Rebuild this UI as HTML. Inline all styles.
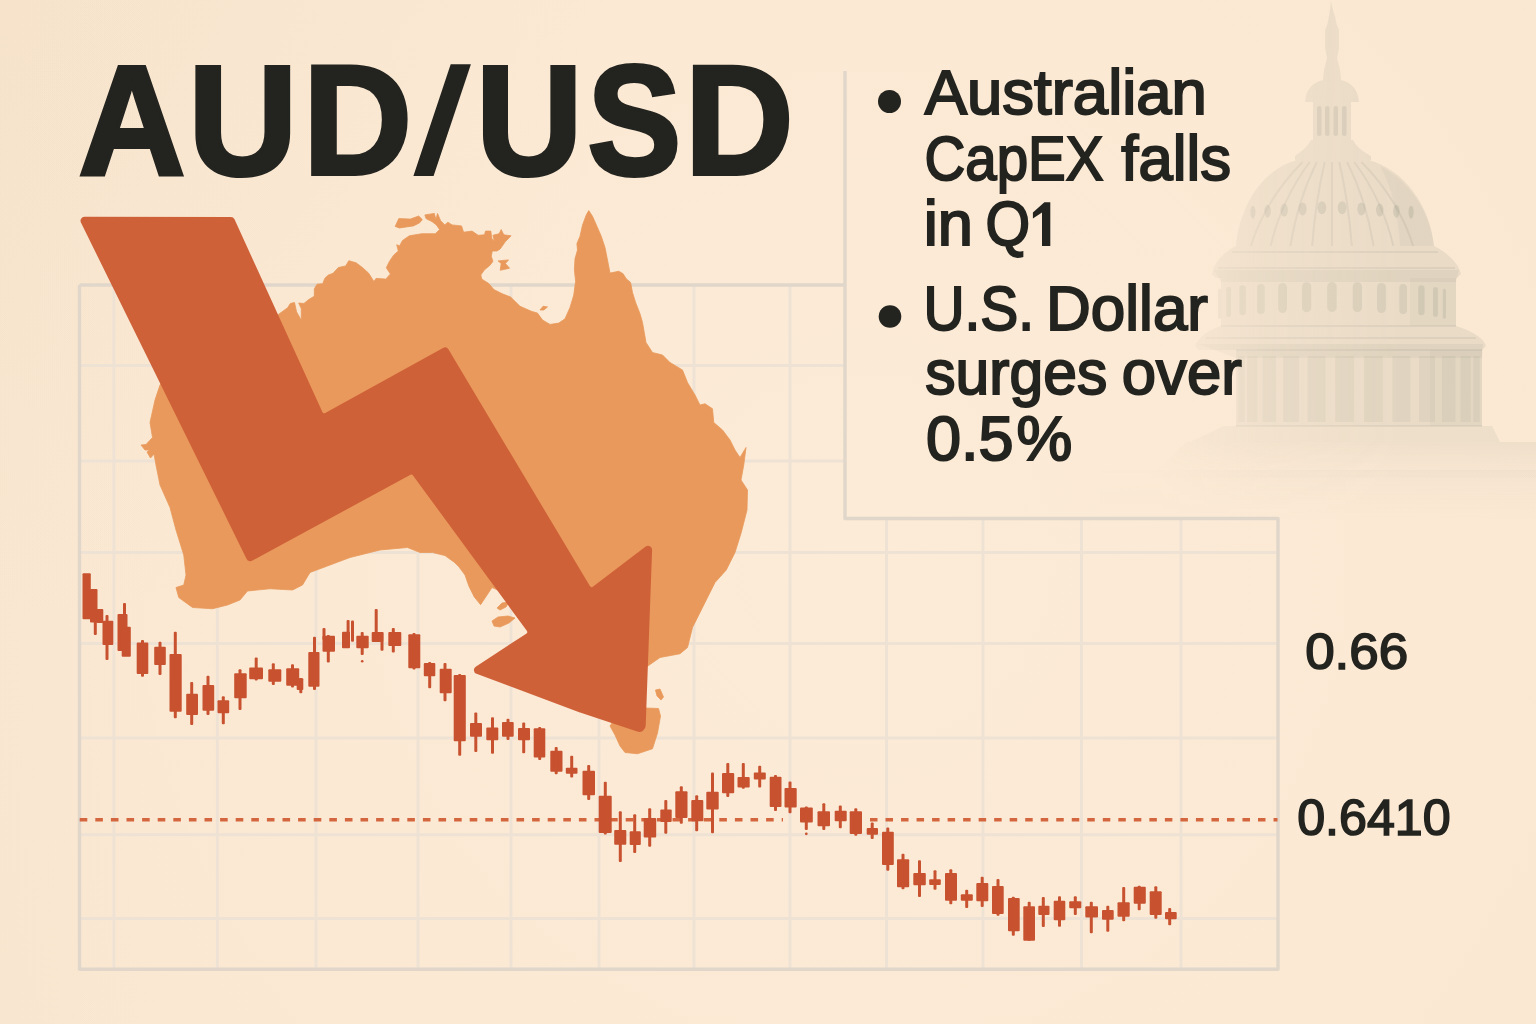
<!DOCTYPE html>
<html><head><meta charset="utf-8"><title>AUD/USD</title>
<style>
html,body{margin:0;padding:0;background:#fbe9d4;}
body{width:1536px;height:1024px;overflow:hidden;font-family:"Liberation Sans",sans-serif;}
svg{display:block;}
text{font-family:"Liberation Sans",sans-serif;}
</style></head><body>
<svg width="1536" height="1024" viewBox="0 0 1536 1024" role="img" aria-label="AUD/USD: Australian CapEX falls in Q1; U.S. Dollar surges over 0.5%">
<defs>
<radialGradient id="bg" gradientUnits="userSpaceOnUse" cx="860" cy="560" r="1000">
<stop offset="0" stop-color="#fcebd7"/><stop offset="0.6" stop-color="#fbe9d4"/><stop offset="1" stop-color="#f9e7d1"/>
</radialGradient>
<radialGradient id="bgtl" gradientUnits="userSpaceOnUse" cx="0" cy="0" r="620">
<stop offset="0" stop-color="#e9cfae" stop-opacity="0.13"/><stop offset="1" stop-color="#e9cfae" stop-opacity="0"/>
</radialGradient>
<linearGradient id="bgl" gradientUnits="userSpaceOnUse" x1="0" y1="0" x2="150" y2="0">
<stop offset="0" stop-color="#e9cfae" stop-opacity="0.05"/><stop offset="1" stop-color="#e9cfae" stop-opacity="0"/>
</linearGradient>
</defs>
<rect width="1536" height="1024" fill="url(#bg)"/><rect width="1536" height="1024" fill="url(#bgtl)"/><rect width="150" height="1024" fill="url(#bgl)"/>
<g stroke="#eee2d5" stroke-width="2.9" fill="none"><line x1="113.9" y1="285" x2="113.9" y2="969.3"/><line x1="217.3" y1="285" x2="217.3" y2="969.3"/><line x1="316" y1="285" x2="316" y2="969.3"/><line x1="418" y1="285" x2="418" y2="969.3"/><line x1="511" y1="285" x2="511" y2="969.3"/><line x1="599" y1="285" x2="599" y2="969.3"/><line x1="694" y1="285" x2="694" y2="969.3"/><line x1="790" y1="285" x2="790" y2="969.3"/><line x1="886.5" y1="518.5" x2="886.5" y2="969.3"/><line x1="983" y1="518.5" x2="983" y2="969.3"/><line x1="1081.5" y1="518.5" x2="1081.5" y2="969.3"/><line x1="1181" y1="518.5" x2="1181" y2="969.3"/><line x1="79" y1="365.5" x2="845" y2="365.5"/><line x1="79" y1="461" x2="845" y2="461"/><line x1="79" y1="552.5" x2="1278" y2="552.5"/><line x1="79" y1="643.5" x2="1278" y2="643.5"/><line x1="79" y1="738" x2="1278" y2="738"/><line x1="79" y1="834.8" x2="1278" y2="834.8"/><line x1="79" y1="918.5" x2="1278" y2="918.5"/></g>
<path d="M79.5,285 H845 M845,71 V518.5 H1278 V969.3 H79.5 V285" fill="none" stroke="#e0d6ca" stroke-width="3.4" stroke-linejoin="round"/>
<path d="M270,320 L278.3,314.5 L287.7,307.7 L290.3,303.5 L294.5,302.5 L296.6,311.9 L301.3,320.2 L301.3,308.7 L298.7,303 L303.9,303.5 L309.1,299.3 L314.3,296.2 L314.3,288.9 L317,284.2 L322.7,283.7 L324.8,278.4 L327.9,275.3 L333.1,273.2 L338.4,267.5 L345.7,265.9 L348.8,260.7 L356.1,262.8 L362.4,267.5 L368.7,273.2 L372.3,279 L373.9,281.6 L376,278.4 L385.4,279 L385.2,279.7 L390.4,274 L386.3,267.7 L389.4,261.4 L393.6,255.2 L398.3,251 L396.7,244.7 L399.5,246 L402.5,240.5 L409.3,235.8 L421.8,233.7 L435.4,233.7 L439.6,229.6 L436.4,224.9 L432.2,221.7 L426,218.6 L424.9,214.9 L434.3,213.4 L435.9,219.6 L437.5,213.4 L440.6,220.7 L444.8,224.9 L447.9,222.2 L452.1,224.9 L461.5,225.9 L463.6,232.2 L472,231.1 L478.2,235.3 L484.5,234.8 L485.5,231.1 L490.8,231.1 L491.8,238.4 L494.4,241 L492.9,235.3 L499.1,233.7 L501.2,229.6 L503.8,234.8 L511.1,235.8 L505.4,241.6 L500.2,248.9 L497,251 L492.3,251 L491.3,256.2 L492.9,261.4 L489.7,265.6 L484.5,269.8 L480.8,275 L481.9,279.2 L488.7,283.4 L493.9,289.6 L502.3,293.8 L510.6,297 L520,306.25 L531.25,311.25 L537.5,313.1 L542.5,320 L550,324.4 L558.75,323.1 L565,318.75 L570,307.5 L573.75,295 L575.6,281.25 L574.4,270 L575,258.75 L577.5,250 L576.9,243.75 L580,236.25 L582.5,225 L586.25,215 L588.75,210.6 L592.5,216.25 L596.9,226.25 L601.25,236.25 L605,247.5 L607.5,260 L610,273.1 L618.75,271.25 L623.1,273.75 L626.25,278.75 L630.6,282.5 L632.5,292.5 L635.6,302.5 L640,313.75 L642.5,322.5 L646,342.5 L652.5,352.5 L662.5,355 L670,362.5 L682.5,370 L687.5,382.5 L695,395 L700,405 L705,403.75 L712.5,408.75 L713.75,422.5 L722.5,430 L730,440 L735,450 L740,457.5 L746,447.5 L743.75,465 L741,480 L747.5,490 L747,510 L741.25,532.5 L735,552.5 L726.25,570 L715,582.5 L707.5,597.5 L700,612.5 L692.5,627.5 L687.5,647.5 L680,653.75 L660,657.5 L647.5,666.25 L630,660 L560,615 L500,591 L492,587.5 L480.6,604.7 L474.3,597 L469,586.4 L465,575 L458.7,566.6 L454.5,562.4 L445,555.6 L432.5,552.5 L420,552.5 L407.5,547.5 L380,550 L350,557.5 L330,565 L310,572.5 L302.5,585 L292.5,590 L270,588.75 L247.5,591 L240,600 L227.5,605 L212.5,608.75 L192.5,607.5 L178.75,597.5 L176,587.5 L183.75,585 L186,575 L183.75,555 L176,530 L170,507.5 L160,485 L156,465 L154,454 L150.5,458 L147,452 L149.5,450 L145,450 L141,445 L146,444.5 L152.5,437.5 L150,422.5 L155,400 L160,385 L166,377Z M395.2,226.4 L398.8,218.6 L410.3,219.1 L418.7,216 L422.3,219.6 L419.7,222.8 L413.4,225.9 L399.3,228Z M498.1,260.9 L508.5,259.9 L505.4,263.5 L509.6,268.2 L500.2,270.3 L501.2,263.5Z M540,310 L543.1,306.25 L547.5,306.9 L543.75,310Z M612,723 L610,726 L615,735 L620,746 L625,752.5 L637.5,753.75 L652.5,748.75 L657.5,733 L660.5,716 L658.5,708.5 L646,708 L640,718 L625,716Z M655.5,690 L660,689 L663.5,697 L661,700 L657,696Z M492,621 L498,617 L508,616 L515,618 L509,623 L500,627 L494,626Z M497,608 L502,603 L509,602 L506,607 L500,610Z" fill="#e9995b" stroke="#e9995b" stroke-width="0.8" stroke-linejoin="round"/>

<path d="M80.9,222.5 A4.0,4.0 0 0 1 84.4,216.8 L230.8,217.0 A4.0,4.0 0 0 1 234.5,219.3 L322.4,412.0 A2.0,2.0 0 0 0 325.2,413.0 L443.0,347.9 A4.0,4.0 0 0 1 448.4,349.3 L589.9,586.1 A2.0,2.0 0 0 0 592.8,586.7 L645.7,546.6 A4.0,4.0 0 0 1 652.1,550.0 L645.7,725.6 A6.5,6.5 0 0 1 637.2,731.6 L580.1,712.6 A4.0,4.0 0 0 1 579.9,712.6 L476.5,673.8 A4.0,4.0 0 0 1 475.7,666.7 L526.2,633.7 A2.0,2.0 0 0 0 526.8,630.8 L413.0,475.4 A2.0,2.0 0 0 0 410.5,474.8 L252.1,560.7 A4.0,4.0 0 0 1 246.6,558.9 Z" fill="#cf6139"/>

<g stroke="#d4663f" stroke-width="3.5"><line x1="79.7" y1="819.7" x2="783" y2="819.7" stroke-dasharray="7.6 8"/><line x1="870" y1="819.7" x2="1277.5" y2="819.7" stroke-dasharray="7.5 8.02"/></g>
<g fill="#c8522f"><rect x="82.5" y="573.3" width="8.3" height="45.9" rx="1"/><rect x="90" y="589" width="7.5" height="33.5" rx="1"/><rect x="93.8" y="589" width="3" height="46.0" rx="1"/><rect x="96.7" y="609" width="6.6" height="14.0" rx="1"/><rect x="102.5" y="620.8" width="10.8" height="24.2" rx="1"/><rect x="105.5" y="615" width="3" height="45.0" rx="1"/><rect x="117.5" y="614" width="10.0" height="37.0" rx="1"/><rect x="123" y="603" width="3" height="48.0" rx="1"/><rect x="121.7" y="626.7" width="9.1" height="30.0" rx="1"/><rect x="136.7" y="642.5" width="11.6" height="31.5" rx="1"/><rect x="141" y="640" width="3" height="36.7" rx="1"/><rect x="154.2" y="646.7" width="11.6" height="18.3" rx="1"/><rect x="158.5" y="641.7" width="3" height="33.3" rx="1"/><rect x="169.5" y="654" width="12.2" height="57.7" rx="1"/><rect x="173.8" y="631.7" width="3" height="86.6" rx="1"/><rect x="186.2" y="693.8" width="11.8" height="21.2" rx="1"/><rect x="190.2" y="682" width="3" height="43.0" rx="1"/><rect x="202.5" y="685" width="11.7" height="25.8" rx="1"/><rect x="206.5" y="675.8" width="3" height="39.2" rx="1"/><rect x="217.5" y="700.3" width="11.7" height="13.0" rx="1"/><rect x="221.8" y="696.3" width="3" height="27.9" rx="1"/><rect x="234.2" y="673.3" width="12.5" height="25.0" rx="1"/><rect x="238.5" y="669.2" width="3" height="40.8" rx="1"/><rect x="249.2" y="667.5" width="13.8" height="11.7" rx="1"/><rect x="254.7" y="657.5" width="3" height="23.0" rx="1"/><rect x="268.3" y="669.2" width="13.0" height="12.5" rx="1"/><rect x="271.8" y="663.3" width="3" height="21.7" rx="1"/><rect x="286.2" y="668.3" width="13.0" height="17.5" rx="1"/><rect x="291" y="664.2" width="3" height="23.3" rx="1"/><rect x="296.7" y="678.3" width="6.6" height="11.7" rx="1"/><rect x="299.3" y="678" width="3" height="15.3" rx="1"/><rect x="308.3" y="652" width="11.2" height="34.7" rx="1"/><rect x="313" y="636.7" width="3" height="53.3" rx="1"/><rect x="322.5" y="635.8" width="12.5" height="15.9" rx="1"/><rect x="326.8" y="635" width="3" height="27.5" rx="1"/><rect x="322.5" y="628" width="3.0" height="12.0" rx="1"/><rect x="342" y="631.7" width="8.0" height="16.6" rx="1"/><rect x="346.6" y="620" width="3.0" height="21.7" rx="1"/><rect x="351" y="620.5" width="3.0" height="21.2" rx="1"/><rect x="356.3" y="635.8" width="12.4" height="12.5" rx="1"/><rect x="360.7" y="632" width="3" height="23.0" rx="1"/><rect x="371.7" y="632" width="11.6" height="10.0" rx="1"/><rect x="374.7" y="609" width="3" height="33.0" rx="1"/><rect x="380.5" y="632" width="3.0" height="18.8" rx="1"/><rect x="388.3" y="632" width="13.0" height="14.0" rx="1"/><rect x="391.8" y="628" width="3" height="24.5" rx="1"/><rect x="408.3" y="634.2" width="12.0" height="34.1" rx="1"/><rect x="412.5" y="633" width="3" height="36.5" rx="1"/><rect x="423.8" y="663" width="11.5" height="13.3" rx="1"/><rect x="428.2" y="662" width="3" height="26.3" rx="1"/><rect x="439.7" y="668.7" width="12.0" height="24.6" rx="1"/><rect x="443.5" y="663" width="3" height="38.3" rx="1"/><rect x="453.7" y="675" width="12.1" height="66.3" rx="1"/><rect x="458.2" y="674" width="3" height="81.8" rx="1"/><rect x="470" y="723" width="12.0" height="13.7" rx="1"/><rect x="474.3" y="712.5" width="3" height="39.5" rx="1"/><rect x="486.3" y="727.5" width="12.0" height="12.8" rx="1"/><rect x="491" y="717.2" width="3" height="36.5" rx="1"/><rect x="502" y="722" width="11.7" height="14.7" rx="1"/><rect x="506.5" y="718.7" width="3" height="21.3" rx="1"/><rect x="518" y="728" width="12.0" height="12.3" rx="1"/><rect x="522.2" y="722.5" width="3" height="30.8" rx="1"/><rect x="533.7" y="728.3" width="11.6" height="29.2" rx="1"/><rect x="538.2" y="727" width="3" height="33.0" rx="1"/><rect x="550.3" y="750.8" width="12.2" height="20.9" rx="1"/><rect x="554.7" y="747" width="3" height="27.2" rx="1"/><rect x="565.8" y="767.8" width="11.7" height="5.9" rx="1"/><rect x="570.2" y="755.8" width="3" height="21.7" rx="1"/><rect x="582.5" y="770.8" width="12.5" height="24.5" rx="1"/><rect x="587.2" y="765" width="3" height="35.0" rx="1"/><rect x="598.7" y="795.8" width="13.0" height="37.2" rx="1"/><rect x="603.8" y="781.7" width="3" height="52.8" rx="1"/><rect x="614.2" y="830" width="12.1" height="14.7" rx="1"/><rect x="618.8" y="811.3" width="3" height="50.7" rx="1"/><rect x="629.7" y="831.3" width="11.1" height="13.7" rx="1"/><rect x="633.2" y="814.2" width="3" height="38.8" rx="1"/><rect x="643.7" y="818" width="12.5" height="19.5" rx="1"/><rect x="648.2" y="808.3" width="3" height="38.4" rx="1"/><rect x="660.3" y="809.5" width="11.4" height="12.5" rx="1"/><rect x="664.3" y="800" width="3" height="33.8" rx="1"/><rect x="675.3" y="791.2" width="12.2" height="26.8" rx="1"/><rect x="679.8" y="786.2" width="3" height="37.5" rx="1"/><rect x="691.3" y="800" width="12.0" height="21.3" rx="1"/><rect x="695.2" y="795.3" width="3" height="36.0" rx="1"/><rect x="706.3" y="791.7" width="12.4" height="17.8" rx="1"/><rect x="711" y="772.5" width="3" height="60.8" rx="1"/><rect x="722" y="773" width="12.2" height="20.3" rx="1"/><rect x="726.3" y="763" width="3" height="34.0" rx="1"/><rect x="737.5" y="777" width="12.2" height="10.5" rx="1"/><rect x="741.8" y="763" width="3" height="25.7" rx="1"/><rect x="753.8" y="772.5" width="12.0" height="7.0" rx="1"/><rect x="758.2" y="765.8" width="3" height="21.7" rx="1"/><rect x="769.7" y="776.7" width="11.8" height="30.3" rx="1"/><rect x="774" y="775" width="3" height="36.0" rx="1"/><rect x="784.5" y="788" width="12.2" height="19.5" rx="1"/><rect x="788.5" y="781.5" width="3" height="31.7" rx="1"/><rect x="800" y="807.5" width="12.8" height="15.0" rx="1"/><rect x="804.8" y="806.5" width="3" height="23.5" rx="1"/><rect x="817.5" y="811.3" width="12.5" height="15.0" rx="1"/><rect x="822.3" y="803.3" width="3" height="26.7" rx="1"/><rect x="834.7" y="810.8" width="12.0" height="10.5" rx="1"/><rect x="838.8" y="805.5" width="3" height="22.8" rx="1"/><rect x="849.7" y="811.3" width="12.3" height="22.7" rx="1"/><rect x="854.3" y="808.3" width="3" height="27.5" rx="1"/><rect x="866.7" y="828" width="11.3" height="6.7" rx="1"/><rect x="870.7" y="822.5" width="3" height="16.5" rx="1"/><rect x="882" y="831.7" width="11.8" height="33.3" rx="1"/><rect x="886.3" y="827.5" width="3" height="43.3" rx="1"/><rect x="897" y="859.2" width="12.2" height="28.0" rx="1"/><rect x="901.5" y="853.7" width="3" height="35.5" rx="1"/><rect x="913.3" y="873" width="12.5" height="12.3" rx="1"/><rect x="918" y="860.3" width="3" height="36.7" rx="1"/><rect x="929.2" y="879.2" width="11.6" height="5.8" rx="1"/><rect x="933.5" y="870.3" width="3" height="19.4" rx="1"/><rect x="945" y="873" width="12.0" height="27.8" rx="1"/><rect x="949.3" y="869.2" width="3" height="35.0" rx="1"/><rect x="960.8" y="894.2" width="12.0" height="6.6" rx="1"/><rect x="965.2" y="889.7" width="3" height="18.3" rx="1"/><rect x="976.3" y="883" width="12.0" height="18.3" rx="1"/><rect x="980.7" y="876.7" width="3" height="30.3" rx="1"/><rect x="992" y="886" width="11.7" height="28.0" rx="1"/><rect x="996.5" y="879" width="3" height="36.8" rx="1"/><rect x="1008" y="898" width="11.7" height="33.3" rx="1"/><rect x="1011.8" y="896.7" width="3" height="39.1" rx="1"/><rect x="1023.3" y="906.3" width="11.7" height="34.5" rx="1"/><rect x="1027.7" y="901.7" width="3" height="39.1" rx="1"/><rect x="1038.3" y="905.8" width="11.2" height="9.2" rx="1"/><rect x="1041.8" y="897" width="3" height="30.0" rx="1"/><rect x="1053.7" y="900.8" width="11.6" height="19.5" rx="1"/><rect x="1058" y="896.3" width="3" height="30.4" rx="1"/><rect x="1069.2" y="901.3" width="12.1" height="7.0" rx="1"/><rect x="1073.8" y="896.3" width="3" height="18.7" rx="1"/><rect x="1085.3" y="906.3" width="12.7" height="11.2" rx="1"/><rect x="1089.8" y="901.7" width="3" height="31.6" rx="1"/><rect x="1102" y="910" width="11.7" height="9.7" rx="1"/><rect x="1106.3" y="905.8" width="3" height="25.9" rx="1"/><rect x="1117.5" y="902.2" width="12.2" height="14.5" rx="1"/><rect x="1122.2" y="887" width="3" height="34.3" rx="1"/><rect x="1133.7" y="886.7" width="12.1" height="17.0" rx="1"/><rect x="1137.7" y="885.8" width="3" height="24.5" rx="1"/><rect x="1149.7" y="891.3" width="12.0" height="23.7" rx="1"/><rect x="1154.3" y="886.3" width="3" height="32.4" rx="1"/><rect x="1165" y="912" width="11.7" height="7.2" rx="1"/><rect x="1168.2" y="908" width="3" height="17.3" rx="1"/><circle cx="362.2" cy="661.3" r="1.3"/><circle cx="806.3" cy="833.8" r="1.4"/></g>

<defs>
<linearGradient id="dfade" gradientUnits="userSpaceOnUse" x1="1160" y1="0" x2="1400" y2="0">
<stop offset="0" stop-color="#fff" stop-opacity="0.15"/><stop offset="0.45" stop-color="#fff" stop-opacity="0.7"/><stop offset="1" stop-color="#fff" stop-opacity="1"/>
</linearGradient>
<linearGradient id="bfade" gradientUnits="userSpaceOnUse" x1="0" y1="440" x2="0" y2="520">
<stop offset="0" stop-color="#7b8672" stop-opacity="0.07"/><stop offset="1" stop-color="#7b8672" stop-opacity="0"/>
</linearGradient>
<linearGradient id="bfade2" gradientUnits="userSpaceOnUse" x1="0" y1="442" x2="0" y2="474">
<stop offset="0" stop-color="#7b8672" stop-opacity="0.09"/><stop offset="1" stop-color="#7b8672" stop-opacity="0.02"/>
</linearGradient>
<mask id="dmask" maskUnits="userSpaceOnUse" x="1080" y="0" width="456" height="540"><rect x="1080" y="0" width="456" height="540" fill="url(#dfade)"/></mask>
</defs>
<g mask="url(#dmask)">
<path d="M1331,1 L1333,10 L1335,16 L1336.5,24 L1339,30 L1339,48 L1337,58 L1340,70 L1341,80 L1323,80 L1324,70 L1327,58 L1325,48 L1325,30 L1327.5,24 L1329,16 L1330,10 Z M1323,80 L1341,80 C1350,82 1356,88 1358,96 L1359,102 L1305,102 L1306,96 C1308,88 1314,82 1323,80 Z M1313,102 H1351 V140 H1313 Z M1311,140 H1353 C1357,148 1364,152 1371,156 L1371,160 L1295,160 L1295,156 C1300,152 1307,148 1311,140 Z M1297,160 C1262,170 1240,205 1236,246 L1434,246 C1430,205 1404,170 1369,160 Z M1236,246 L1434,246 C1446,252 1458,262 1461,274 L1457,278 L1216,278 L1212,274 C1214,262 1224,252 1236,246 Z M1221,278 H1456 V326 H1221 Z M1221,326 H1456 C1470,330 1484,338 1486,346 L1482,350 L1199,350 L1195,346 C1198,338 1208,330 1221,326 Z M1236,350 H1482 V426 H1236 Z" fill="#7b8672" fill-opacity="0.13"/>
<path d="M1224,426 H1492 L1500,442 H1190 Z" fill="#7b8672" fill-opacity="0.10"/>
<path d="M1186,442 H1536 V478 H1150 Z" fill="url(#bfade2)"/>
<path d="M1380,166 C1408,180 1430,210 1434,246 L1400,246 C1398,214 1392,188 1380,166 Z" fill="#7b8672" fill-opacity="0.07"/>
<path d="M1410,278 H1456 V326 H1410 Z M1430,350 H1482 V426 H1430 Z" fill="#7b8672" fill-opacity="0.06"/>
<path d="M1302.5,162 Q1265.2,200 1250.8,246 M1309.7,162 Q1281.5,200 1270.6,246 M1316.9,162 Q1297.8,200 1290.4,246 M1324.8,162 Q1315.7,200 1312.2,246 M1332.0,162 Q1332.0,200 1332.0,246 M1339.2,162 Q1348.3,200 1351.8,246 M1347.1,162 Q1366.2,200 1373.6,246 M1354.3,162 Q1382.5,200 1393.4,246 M1361.5,162 Q1398.8,200 1413.2,246" fill="none" stroke="#7b8672" stroke-opacity="0.13" stroke-width="2"/>
<g fill="#7b8672" fill-opacity="0.2"><ellipse cx="1252.9" cy="212.2" rx="2.6" ry="6.5"/><ellipse cx="1267.6" cy="211.2" rx="3.2" ry="6.5"/><ellipse cx="1284.2" cy="210.1" rx="3.7" ry="6.5"/><ellipse cx="1302.6" cy="208.9" rx="4.1" ry="6.5"/><ellipse cx="1321.9" cy="207.7" rx="4.4" ry="6.5"/><ellipse cx="1342.1" cy="207.7" rx="4.4" ry="6.5"/><ellipse cx="1361.4" cy="208.9" rx="4.1" ry="6.5"/><ellipse cx="1379.8" cy="210.1" rx="3.7" ry="6.5"/><ellipse cx="1396.4" cy="211.2" rx="3.2" ry="6.5"/><ellipse cx="1411.1" cy="212.2" rx="2.6" ry="6.5"/></g>
<g fill="#7b8672" fill-opacity="0.18"><rect x="1317" y="106" width="4.5" height="30" rx="2"/><rect x="1325" y="106" width="4.5" height="30" rx="2"/><rect x="1333.5" y="106" width="4.5" height="30" rx="2"/><rect x="1342" y="106" width="4.5" height="30" rx="2"/></g>
<g fill="#7b8672" fill-opacity="0.17"><rect x="1218.1" y="288.8" width="3.1" height="30" rx="1.6"/><rect x="1226.2" y="286.9" width="4.9" height="30" rx="2.4"/><rect x="1239.4" y="285.3" width="6.4" height="30" rx="3.2"/><rect x="1257.0" y="283.9" width="7.7" height="30" rx="3.9"/><rect x="1278.2" y="282.9" width="8.7" height="30" rx="4.3"/><rect x="1302.0" y="282.2" width="9.3" height="30" rx="4.6"/><rect x="1327.2" y="282.0" width="9.5" height="30" rx="4.8"/><rect x="1352.7" y="282.2" width="9.3" height="30" rx="4.6"/><rect x="1377.1" y="282.9" width="8.7" height="30" rx="4.3"/><rect x="1399.3" y="283.9" width="7.7" height="30" rx="3.9"/><rect x="1418.2" y="285.3" width="6.4" height="30" rx="3.2"/><rect x="1433.0" y="286.9" width="4.9" height="30" rx="2.4"/><rect x="1442.8" y="288.8" width="3.1" height="30" rx="1.6"/></g>
<path d="M1232,252 H1438 M1218,268 H1455 M1221,326 H1456 M1206,338 H1476 M1236,350 H1482 M1236,426 H1482" stroke="#7b8672" stroke-opacity="0.12" stroke-width="2" fill="none"/>
<g fill="#7b8672" fill-opacity="0.10"><rect x="1238.2" y="356" width="6.5" height="66"/><rect x="1247.2" y="356" width="10.3" height="66"/><rect x="1262.4" y="356" width="13.5" height="66"/><rect x="1283.0" y="356" width="16.1" height="66"/><rect x="1307.7" y="356" width="17.9" height="66"/><rect x="1335.2" y="356" width="18.9" height="66"/><rect x="1363.9" y="356" width="18.9" height="66"/><rect x="1392.4" y="356" width="17.9" height="66"/><rect x="1418.9" y="356" width="16.1" height="66"/><rect x="1442.0" y="356" width="13.5" height="66"/><rect x="1460.5" y="356" width="10.3" height="66"/><rect x="1473.3" y="356" width="6.5" height="66"/></g>
<path d="M1214,270 H1459 L1456,282 H1221 Z M1198,344 H1483 L1482,358 H1236 Z" fill="#7b8672" fill-opacity="0.09"/>
<path d="M1100,470 H1536 V520 H1100 Z" fill="url(#bfade)"/>
</g>

<text transform="translate(78.55,173.6) scale(0.9477,1)" font-size="156" font-weight="700" fill="#23241f" stroke="#23241f" stroke-width="4">A</text>
<text transform="translate(188.21,173.6) scale(0.9694,1)" font-size="156" font-weight="700" fill="#23241f" stroke="#23241f" stroke-width="4">U</text>
<text transform="translate(303.01,173.6) scale(0.9675,1)" font-size="156" font-weight="700" fill="#23241f" stroke="#23241f" stroke-width="4">D</text>
<text transform="translate(475.88,173.6) scale(0.9459,1)" font-size="156" font-weight="700" fill="#23241f" stroke="#23241f" stroke-width="4">U</text>
<text transform="translate(587.6,173.6) scale(0.9,1)" font-size="156" font-weight="700" fill="#23241f" stroke="#23241f" stroke-width="4">S</text>
<text transform="translate(684.78,173.6) scale(0.965,1)" font-size="156" font-weight="700" fill="#23241f" stroke="#23241f" stroke-width="4">D</text>
<text transform="translate(924.76,113.9) scale(1.0072,1)" font-size="63" font-weight="400" fill="#23241f" stroke="#23241f" stroke-width="2.0">Australian</text>
<text transform="translate(924.46,179.5) scale(0.8965,1)" font-size="63" font-weight="400" fill="#23241f" stroke="#23241f" stroke-width="2.0">CapEX</text>
<text transform="translate(1121.25,179.5) scale(0.9797,1)" font-size="63" font-weight="400" fill="#23241f" stroke="#23241f" stroke-width="2.0">falls</text>
<text transform="translate(923.79,245.3) scale(1.0023,1)" font-size="63" font-weight="400" fill="#23241f" stroke="#23241f" stroke-width="2.0">in</text>
<text transform="translate(985.58,245.3) scale(0.9111,1)" font-size="63" font-weight="400" fill="#23241f" stroke="#23241f" stroke-width="2.0">Q</text>
<text transform="translate(923.39,329.5) scale(0.9035,1)" font-size="63" font-weight="400" fill="#23241f" stroke="#23241f" stroke-width="2.0">U.S.</text>
<text transform="translate(1046.06,329.5) scale(0.9844,1)" font-size="63" font-weight="400" fill="#23241f" stroke="#23241f" stroke-width="2.0">Dollar</text>
<text transform="translate(925.29,394.3) scale(0.9626,1)" font-size="63" font-weight="400" fill="#23241f" stroke="#23241f" stroke-width="2.0">surges</text>
<text transform="translate(1121.79,394.3) scale(0.9792,1)" font-size="63" font-weight="400" fill="#23241f" stroke="#23241f" stroke-width="2.0">over</text>
<text transform="translate(926.0,460) scale(1.0,1)" font-size="63" font-weight="400" fill="#23241f" stroke="#23241f" stroke-width="2.0">0.5</text>
<text transform="translate(1016.5,460) scale(0.9954,1)" font-size="63" font-weight="400" fill="#23241f" stroke="#23241f" stroke-width="2.0">%</text>
<text transform="translate(1305.13,668.8) scale(1.0702,1)" font-size="49.5" font-weight="400" fill="#23241f" stroke="#23241f" stroke-width="1.6">0.66</text>
<text transform="translate(1297.19,835.1) scale(1.0134,1)" font-size="49.5" font-weight="400" fill="#23241f" stroke="#23241f" stroke-width="1.6">0.6410</text>
<polygon points="413.4,176 433.6,176 470.9,64.2 450.7,64.2" fill="#23241f"/>
<polygon points="1050.3,202.3 1044.4,202.3 1032.9,212.6 1032.9,218.4 1042,212.6 1042,245.9 1050.3,245.9" fill="#23241f"/>
<circle cx="889.5" cy="101.5" r="11.5" fill="#23241f"/>
<circle cx="890" cy="316.5" r="11.3" fill="#23241f"/>

</svg>
</body></html>
